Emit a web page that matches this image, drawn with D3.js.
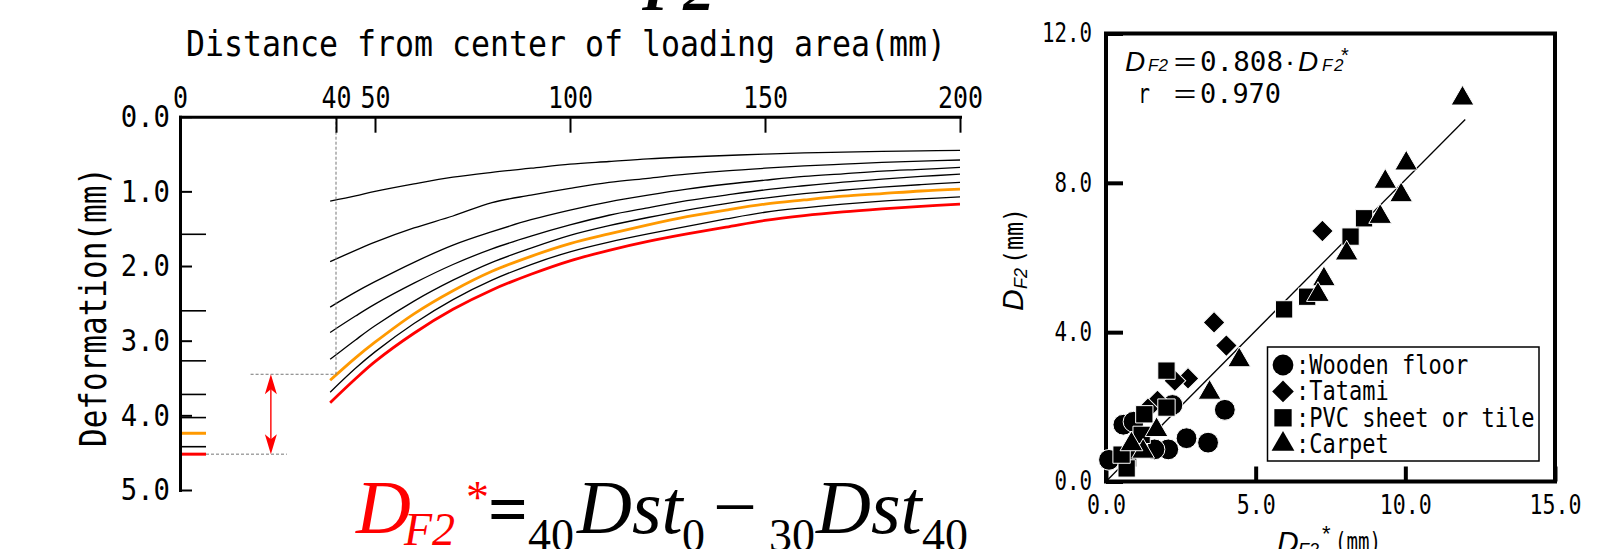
<!DOCTYPE html>
<html><head><meta charset="utf-8">
<script src="https://cdn.jsdelivr.net/npm/d3@7"></script>
<style>
html,body{margin:0;padding:0;background:#fff;}
svg{display:block;}
</style>
</head><body>
<svg id="chart" width="1603" height="549"></svg>
<script>
// ===== Left chart data: deformation profiles (mm) vs distance from centre (mm) =====
const distances = [38.5,45,50,60,70,80,90,100,110,120,130,140,150,160,170,180,190,200];
const curve1 = [1.13,1.06,1.00,0.90,0.81,0.745,0.69,0.635,0.60,0.565,0.54,0.52,0.50,0.485,0.475,0.465,0.457,0.45];
const curve2 = [1.94,1.79,1.68,1.49,1.33,1.15,1.05,0.96,0.88,0.825,0.77,0.725,0.69,0.66,0.635,0.612,0.595,0.58];
const curve3 = [2.55,2.35,2.21,1.95,1.72,1.54,1.38,1.25,1.14,1.05,0.97,0.905,0.85,0.80,0.765,0.73,0.705,0.68];
const curve4 = [2.89,2.67,2.51,2.23,1.98,1.77,1.60,1.45,1.32,1.22,1.125,1.05,0.98,0.925,0.875,0.835,0.80,0.77];
const curve5 = [3.25,2.99,2.80,2.47,2.19,1.95,1.76,1.59,1.46,1.35,1.25,1.165,1.09,1.03,0.985,0.943,0.91,0.88];
const curveOrange = [3.53,3.23,3.02,2.64,2.33,2.07,1.87,1.70,1.57,1.45,1.34,1.25,1.17,1.115,1.065,1.03,0.995,0.97];
const curve7 = [3.69,3.37,3.15,2.77,2.45,2.19,1.98,1.81,1.68,1.57,1.47,1.37,1.28,1.22,1.17,1.13,1.10,1.075];
const curveRed = [3.83,3.51,3.28,2.90,2.58,2.32,2.11,1.93,1.79,1.67,1.57,1.48,1.39,1.325,1.275,1.235,1.20,1.17];
// deformation at the centre of the loading area (marks on the left axis)
const centerDeformation = [1.575,2.60,3.27,3.72,4.03,4.24,4.42,4.52];
const topTicks = [0,40,50,100,150,200];
const topTickLabels = ["0","40","50","100","150","200"];
const leftTicks = [0,1,2,3,4,5];
const leftTickLabels = ["0.0","1.0","2.0","3.0","4.0","5.0"];
const refDistance = 40, refLevel = 3.45, arrowDistance = 23.3, dashStart = 18.1, dashEnd = 27.4;

// ===== Right chart data: D_F2 vs D_F2* (mm) =====
const woodenFloor = [[0.10,0.58],[0.58,1.52],[0.92,1.60],[2.22,2.05],[3.97,1.92],[2.69,1.16],[3.41,1.04],[2.08,0.86],[1.62,0.86],[1.05,0.95]];
const tatami = [[3.61,4.26],[4.02,3.64],[2.74,2.76],[2.30,2.70],[1.72,2.16],[7.23,6.71],[1.40,1.95]];
const pvcSheet = [[5.95,4.61],[6.72,4.95],[8.62,7.05],[8.17,6.56],[2.02,2.97],[2.02,1.98],[1.28,1.80],[1.19,1.25],[0.74,0.62],[0.69,0.35],[0.52,0.72]];
const carpet = [[11.91,10.26],[10.03,8.52],[9.33,8.03],[9.86,7.67],[9.16,7.09],[8.04,6.11],[7.28,5.42],[7.08,5.00],[4.45,3.25],[3.46,2.38],[1.69,1.38],[1.24,0.80],[0.85,1.00]];
const legendLabels = [":Wooden floor",":Tatami",":PVC sheet or tile",":Carpet"];
const scatterXTicks = [0,5,10,15];
const scatterXTickLabels = ["0.0","5.0","10.0","15.0"];
const scatterYTicks = [0,4,8,12];
const scatterYTickLabels = ["0.0","4.0","8.0","12.0"];
const slope = 0.808, corr = 0.970, fitMaxX = 12;

// ===== helpers =====
const MONO = "'DejaVu Sans Mono','Liberation Mono',monospace";
const SERIF = "'Liberation Serif','DejaVu Serif',serif";
const SANS = "'Liberation Sans',Arial,sans-serif";
const CJK = "'Noto Sans CJK JP',sans-serif";
function fitText(sel, cell){
  sel.each(function(){ const t=d3.select(this); const s=t.text();
    t.attr("textLength", s.length*cell).attr("lengthAdjust","spacingAndGlyphs"); });
}
function mono(g, str, x, y, size, cell, anchor){
  return g.append("text").attr("x",x).attr("y",y).attr("font-family",MONO)
    .attr("font-size",size).attr("text-anchor",anchor||"start")
    .attr("textLength",str.length*cell).attr("lengthAdjust","spacingAndGlyphs").text(str);
}
function txt(g, str, x, y, size, family, opts){
  opts = opts||{};
  return g.append("text").attr("x",x).attr("y",y).attr("font-family",family).attr("font-size",size)
    .attr("font-style",opts.italic?"italic":"normal").attr("font-weight",opts.bold?"bold":"normal")
    .attr("fill",opts.fill||"#000").text(str);
}

const svg = d3.select("#chart");

// ===== Left chart =====
const L = svg.append("g");
const x = d3.scaleLinear().domain([0,200]).range([180,960]);
const y = d3.scaleLinear().domain([0,5]).range([116.7,490]);

const line = d3.line().x(d=>x(d[0])).y(d=>y(d[1])).curve(d3.curveCatmullRom.alpha(0.5));
const seriesList = [curve1,curve2,curve3,curve4,curve5,curveOrange,curve7,curveRed];
const seriesStyle = [
  {c:"#000",w:1.3},{c:"#000",w:1.3},{c:"#000",w:1.3},{c:"#000",w:1.3},{c:"#000",w:1.3},
  {c:"#FF9900",w:2.8},{c:"#000",w:1.3},{c:"#FF0000",w:2.8}];
const order = [0,1,2,3,4,6,5,7];
order.forEach(i=>{
  L.append("path").datum(distances.map((d,j)=>[d, seriesList[i][j]]))
    .attr("d",line).attr("fill","none").attr("stroke",seriesStyle[i].c)
    .attr("stroke-width",seriesStyle[i].w).attr("stroke-linejoin","round");
});

// dashed reference lines
const dashStyle = s=>s.attr("stroke","#777").attr("stroke-width",1).attr("stroke-dasharray","3,2");
L.append("line").attr("x1",x(refDistance)).attr("x2",x(refDistance)).attr("y1",y(0)).attr("y2",y(refLevel)).call(dashStyle);
L.append("line").attr("x1",x(dashStart)).attr("x2",x(refDistance)).attr("y1",y(refLevel)).attr("y2",y(refLevel)).call(dashStyle);
L.append("line").attr("x1",x(0)+26).attr("x2",x(dashEnd)).attr("y1",y(centerDeformation[7])).attr("y2",y(centerDeformation[7])).call(dashStyle);

// marks of centre deformation
centerDeformation.forEach((v,i)=>{
  L.append("line").attr("x1",x(0)).attr("x2",x(0)+26).attr("y1",y(v)).attr("y2",y(v))
    .attr("stroke",seriesStyle[i].c).attr("stroke-width",(i===5||i===7)?3:1.6);
});

// red double arrow
const ax = x(arrowDistance), ay1 = y(refLevel), ay2 = y(centerDeformation[7]);
L.append("line").attr("x1",ax).attr("x2",ax).attr("y1",ay1+10).attr("y2",ay2-10).attr("stroke","#FF0000").attr("stroke-width",1.4);
L.append("path").attr("d",`M${ax},${ay1}L${ax-6},${ay1+20}L${ax},${ay1+15}L${ax+6},${ay1+20}Z`).attr("fill","#FF0000");
L.append("path").attr("d",`M${ax},${ay2}L${ax-6},${ay2-20}L${ax},${ay2-15}L${ax+6},${ay2-20}Z`).attr("fill","#FF0000");

// axes
const gTop = L.append("g").attr("transform",`translate(0,${y(0)})`)
  .call(d3.axisTop(x).tickValues(topTicks).tickFormat((d,i)=>topTickLabels[i]).tickSize(-16).tickSizeOuter(0).tickPadding(8.5));
gTop.select(".domain").attr("stroke-width",3).attr("stroke-linecap","square");
gTop.selectAll(".tick line").attr("stroke-width",2);
gTop.selectAll(".tick text").attr("font-family",MONO).attr("font-size",31).attr("fill","#000").call(fitText,15);

const gLeft = L.append("g").attr("transform",`translate(${x(0)},0)`)
  .call(d3.axisLeft(y).tickValues(leftTicks).tickFormat((d,i)=>leftTickLabels[i]).tickSize(-12).tickSizeOuter(0).tickPadding(10));
gLeft.select(".domain").attr("stroke-width",3).attr("stroke-linecap","square");
gLeft.selectAll(".tick line").attr("stroke-width",2);
gLeft.selectAll(".tick text").attr("font-family",MONO).attr("font-size",31).attr("fill","#000").call(fitText,16.4);

// titles
mono(L, "Distance from center of loading area(mm)", 186, 56, 36, 19, "start");
L.append("text").attr("transform","translate(106,307) rotate(-90)").attr("text-anchor","middle")
  .attr("font-family",MONO).attr("font-size",38).attr("textLength",280).attr("lengthAdjust","spacingAndGlyphs")
  .text("Deformation(mm)");

// formula  D_F2* = 40Dst0 − 30Dst40
const F = svg.append("g");
txt(F,"D",356,533,76,SERIF,{italic:true,fill:"#FF0000"});
txt(F,"F2",404,545,46,SERIF,{italic:true,fill:"#FF0000"});
txt(F,"*",466,513,46,SERIF,{fill:"#FF0000"});
txt(F,"=",488,533,70,SERIF,{bold:true});
txt(F,"40",528,551,46,SERIF);
txt(F,"Dst",577,533,76,SERIF,{italic:true});
txt(F,"0",682,551,46,SERIF);
txt(F,"\u2212",713,533,78,SERIF);
txt(F,"30",769,551,46,SERIF);
txt(F,"Dst",816,533,76,SERIF,{italic:true});
txt(F,"40",922,551,46,SERIF);
// cut-off heading fragments at the top edge
txt(svg,"F2",642,10,62,SERIF,{italic:true,bold:true});
txt(svg,"g",55,-9,40,SANS,{bold:true});

// ===== Right chart =====
const R = svg.append("g");
const sx = d3.scaleLinear().domain([0,15]).range([1106,1555]);
const sy = d3.scaleLinear().domain([0,12]).range([481.5,33.5]);

const gX = R.append("g").attr("transform",`translate(0,${sy(0)})`)
  .call(d3.axisBottom(sx).tickValues(scatterXTicks).tickFormat((d,i)=>scatterXTickLabels[i]).tickSize(-15).tickSizeOuter(0).tickPadding(14));
gX.select(".domain").remove();
gX.selectAll(".tick line").attr("stroke-width",4);
gX.selectAll(".tick text").attr("font-family",MONO).attr("font-size",26).attr("fill","#000").call(fitText,13);

const gY = R.append("g").attr("transform",`translate(${sx(0)},0)`)
  .call(d3.axisLeft(sy).tickValues(scatterYTicks).tickFormat((d,i)=>scatterYTickLabels[i]).tickSize(-17).tickSizeOuter(0).tickPadding(14));
gY.select(".domain").remove();
gY.selectAll(".tick line").attr("stroke-width",4);
gY.selectAll(".tick text").attr("font-family",MONO).attr("font-size",26).attr("fill","#000").call(fitText,12.5);

R.append("rect").attr("x",sx(0)).attr("y",sy(12)).attr("width",sx(15)-sx(0)).attr("height",sy(0)-sy(12))
  .attr("fill","none").attr("stroke","#000").attr("stroke-width",4);

// regression line
R.append("line").attr("x1",sx(0)).attr("y1",sy(0)).attr("x2",sx(fitMaxX)).attr("y2",sy(slope*fitMaxX))
  .attr("stroke","#000").attr("stroke-width",1.3);

// markers
const symCircle = d3.symbol().type(d3.symbolCircle).size(340)();
const symDiamond = d3.symbol().type(d3.symbolSquare).size(235)();
const symSquare = d3.symbol().type(d3.symbolSquare).size(300)();
const symTriangle = d3.symbol().type(d3.symbolTriangle).size(225)();
const groups = [
  {data:woodenFloor, path:symCircle, rot:0},
  {data:tatami, path:symDiamond, rot:45},
  {data:pvcSheet, path:symSquare, rot:0},
  {data:carpet, path:symTriangle, rot:0}];
groups.forEach(g=>{
  R.append("g").selectAll("path").data(g.data).join("path")
    .attr("d",g.path).attr("transform",d=>`translate(${sx(d[0])},${sy(d[1])}) rotate(${g.rot})`)
    .attr("fill","#000").attr("stroke","#fff").attr("stroke-width",1);
});

// legend
const LG = R.append("g");
LG.append("rect").attr("x",1267.5).attr("y",347).attr("width",271.5).attr("height",114)
  .attr("fill","#fff").attr("stroke","#000").attr("stroke-width",1.5);
legendLabels.forEach((lab,i)=>{
  const cy = 365 + i*26.4;
  LG.append("path").attr("d",groups[i].path).attr("transform",`translate(1283,${cy}) rotate(${groups[i].rot})`).attr("fill","#000");
  mono(LG, lab, 1296, cy+9, 26, 13.25, "start");
});

// equation text in the plot
txt(R,"D",1125,71,28,SANS,{italic:true});
txt(R,"F2",1148,71,17,SANS,{italic:true});
txt(R,"\uFF1D",1172,72,26,CJK);
mono(R, d3.format(".3f")(slope), 1200, 71, 26, 16.6, "start");
txt(R,"\u00B7",1285,71,30,SANS);
txt(R,"D",1298,71,28,SANS,{italic:true});
txt(R,"F",1322,71,17,SANS,{italic:true});
txt(R,"2",1334,71,17,SANS,{italic:true});
txt(R,"*",1341,62,20,SANS);
mono(R, "r", 1138, 103, 26, 12, "start");
txt(R,"\uFF1D",1172,104,26,CJK);
mono(R, d3.format(".3f")(corr), 1200, 103, 26, 16.2, "start");

// axis titles
txt(R,"D",1277,552,30,SANS,{italic:true});
txt(R,"F2",1298,556,18,SANS,{italic:true});
txt(R,"*",1322,541,22,SANS);
mono(R,"(mm)",1335,551,26,11.5,"start");
const yt = R.append("g").attr("transform","translate(1023,311) rotate(-90)");
txt(yt,"D",0,0,30,SANS,{italic:true});
txt(yt,"F2",22,4,18,SANS,{italic:true});
yt.append("text").attr("x",47).attr("y",0).attr("font-family",MONO).attr("font-size",26)
  .attr("textLength",56).attr("lengthAdjust","spacingAndGlyphs").text("(mm)");
</script>
</body></html>
